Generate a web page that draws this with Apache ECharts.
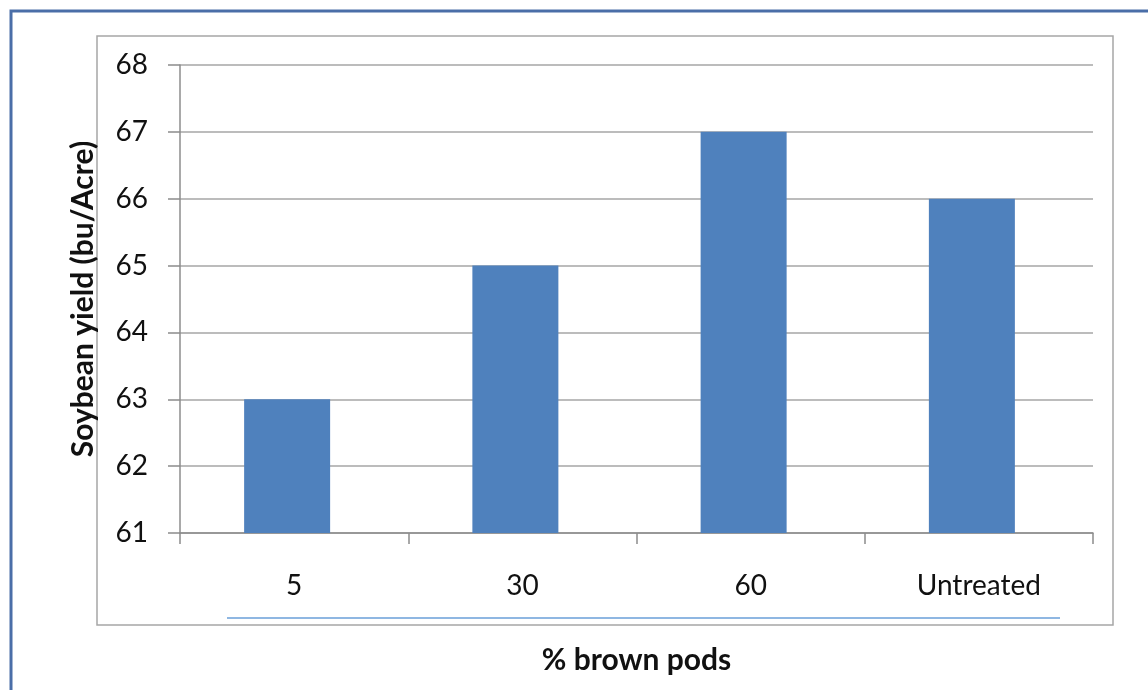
<!DOCTYPE html>
<html>
<head>
<meta charset="utf-8">
<script src="https://cdn.jsdelivr.net/npm/echarts@6/dist/echarts.min.js"></script>
<style>
html,body{margin:0;padding:0;background:#fff;}
#chart{width:1148px;height:690px;}
</style>
</head>
<body>
<div id="chart"></div>
<script>
const categories = ['5', '30', '60', 'Untreated'];
const yieldValues = [63, 65, 67, 66];
const yMin = 61, yMax = 68, yStep = 1;

const FONT = 'Lato';
const chart = echarts.init(document.getElementById('chart'), null, {renderer: 'canvas'});
chart.setOption({
  animation: false,
  backgroundColor: '#ffffff',
  textStyle: {fontFamily: FONT},
  grid: {left: 180, top: 65, right: 55, bottom: 157, containLabel: false},
  graphic: [
    {type: 'rect', shape: {x: 11, y: 11, width: 1200, height: 720},
     style: {fill: 'none', stroke: '#4a6ea8', lineWidth: 3}, silent: true},
    {type: 'rect', shape: {x: 97, y: 36, width: 1016, height: 589},
     style: {fill: 'none', stroke: '#a6a6a6', lineWidth: 1.5}, silent: true},
    {type: 'line', shape: {x1: 227, y1: 618, x2: 1060, y2: 618},
     style: {stroke: '#6a9fd8', lineWidth: 1.5}, silent: true}
  ],
  xAxis: {
    type: 'category',
    data: categories,
    name: '% brown pods',
    nameLocation: 'middle',
    nameGap: 112,
    nameTextStyle: {fontFamily: FONT, fontSize: 30, fontWeight: 'bold', color: '#111'},
    axisLine: {show: true, lineStyle: {color: '#8c8c8c', width: 1.5}},
    axisTick: {show: true, length: 11, alignWithLabel: false, lineStyle: {color: '#8c8c8c', width: 1.5}},
    axisLabel: {margin: 39, fontFamily: FONT, fontSize: 28, color: '#111'},
    splitLine: {show: false}
  },
  yAxis: {
    type: 'value',
    min: yMin,
    max: yMax,
    interval: yStep,
    name: 'Soybean yield (bu/Acre)',
    nameLocation: 'middle',
    nameGap: 82,
    nameTextStyle: {fontFamily: FONT, fontSize: 30, fontWeight: 'bold', color: '#111'},
    axisLine: {show: true, lineStyle: {color: '#8c8c8c', width: 1.5}},
    axisTick: {show: true, length: 12, lineStyle: {color: '#8c8c8c', width: 1.5}},
    axisLabel: {margin: 32, fontFamily: FONT, fontSize: 28, color: '#111'},
    splitLine: {show: true, lineStyle: {color: '#a6a6a6', width: 1.5}}
  },
  series: [
    {type: 'bar', data: yieldValues, barWidth: 86, barGap: '0%',
     itemStyle: {color: '#4f81bd'}},
    {type: 'bar', data: categories.map(() => null), barWidth: 14, barGap: '0%'}
  ]
});
</script>
</body>
</html>
